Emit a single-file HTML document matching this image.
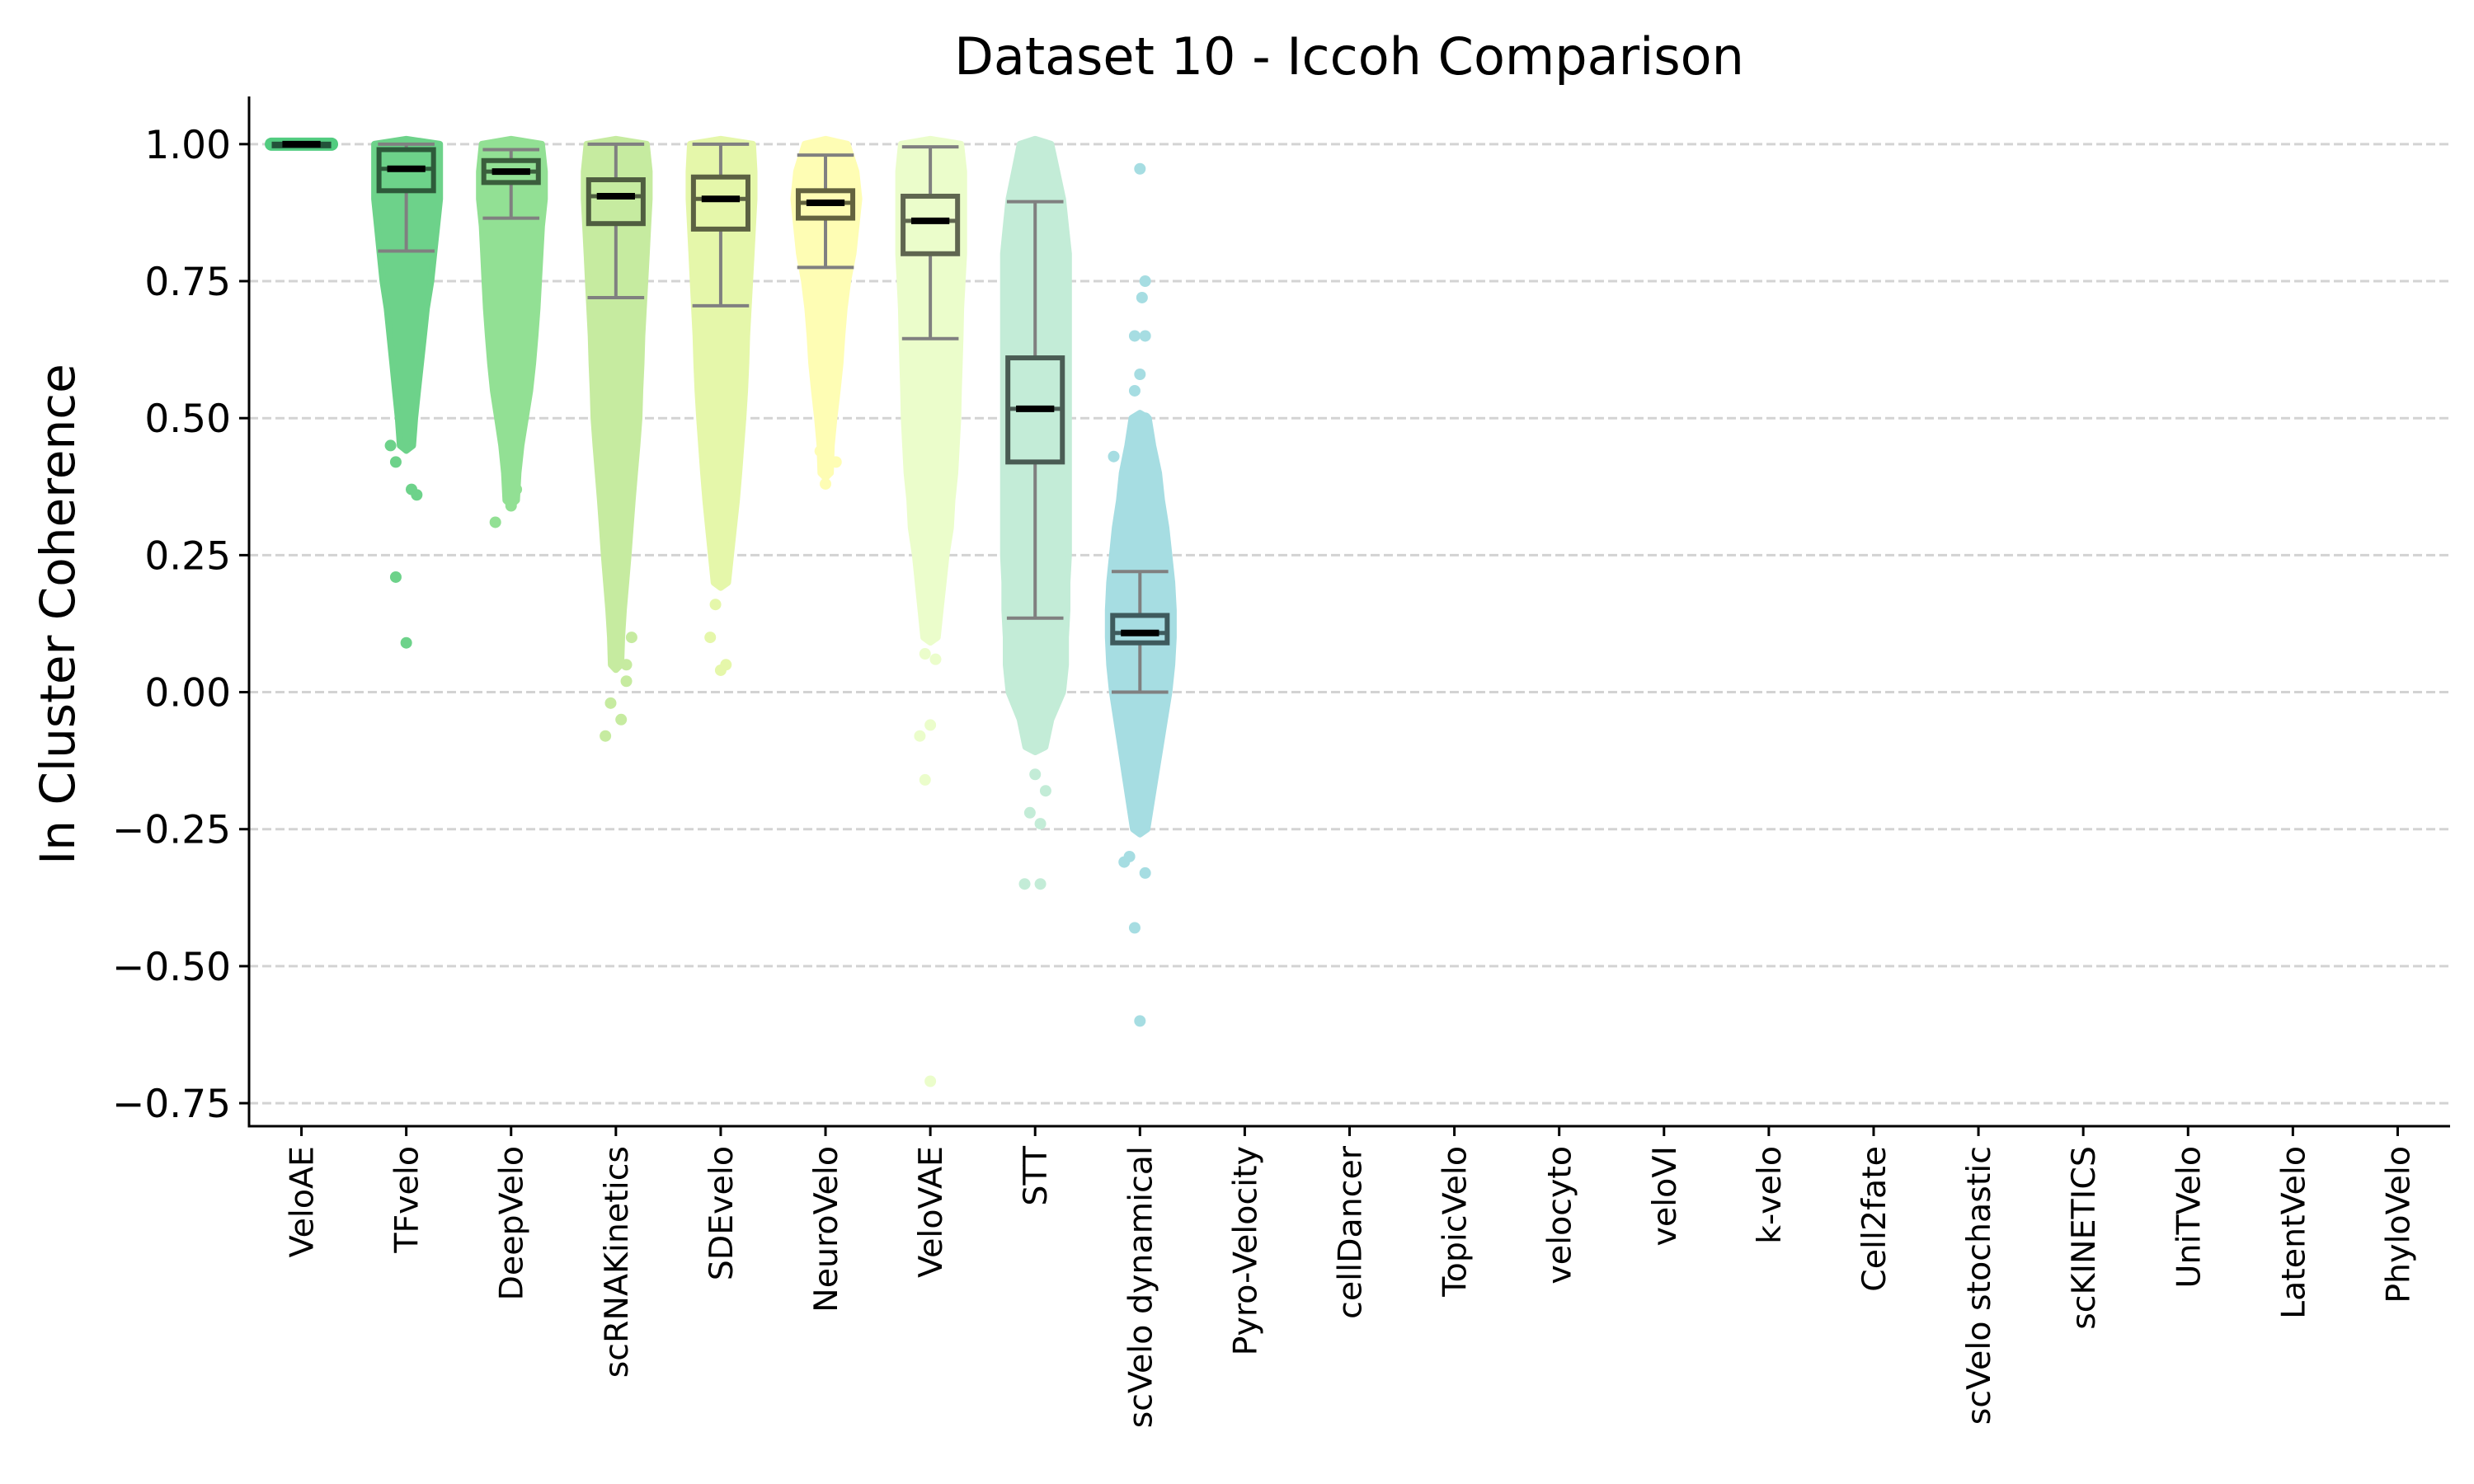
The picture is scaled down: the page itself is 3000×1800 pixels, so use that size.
<!DOCTYPE html>
<html><head><meta charset="utf-8"><style>
html,body{margin:0;padding:0;background:#fff;}
svg{display:block;font-family:"DejaVu Sans","Liberation Sans",sans-serif;}
</style></head><body>
<svg id="chart" width="3000" height="1800" viewBox="0 0 3000 1800" xmlns="http://www.w3.org/2000/svg">
<text x="1636" y="90" font-size="62" text-anchor="middle">Dataset 10 - Iccoh Comparison</text>
<text transform="translate(90,745) rotate(-90)" font-size="58" text-anchor="middle">In Cluster Coherence</text>
<g id="grid"></g>
<g id="clouds"></g>
<g id="boxes"></g>
<g id="axes"></g>
</svg>
<script>
const categories = ["VeloAE","TFvelo","DeepVelo","scRNAKinetics","SDEvelo","NeuroVelo","VeloVAE","STT","scVelo dynamical","Pyro-Velocity","cellDancer","TopicVelo","velocyto","veloVI","k-velo","Cell2fate","scVelo stochastic","scKINETICS","UniTVelo","LatentVelo","PhyloVelo"];
const colors = ["#52cc80","#6dd28a","#92e094","#c6eba0","#e5f7aa","#fefdb4","#ebfdcb","#c3ecd7","#a6dde2"];
const edgeColors = ["#23533a","#2d5a3a","#3a5e3c","#4f5d40","#5b6142","#63633f","#5f6650","#4a5c54","#3e5a5d"];
const medians = [1.0,0.955,0.95,0.905,0.9,0.893,0.86,0.517,0.108];
const q1s = [0.997,0.915,0.93,0.855,0.845,0.865,0.80,0.42,0.09];
const q3s = [1.0,0.99,0.97,0.935,0.94,0.915,0.905,0.61,0.14];
const whiskerLo = [0.996,0.805,0.865,0.72,0.705,0.775,0.645,0.135,0.0];
const whiskerHi = [1.0,1.0,0.99,1.0,1.0,0.98,0.995,0.895,0.22];
const yTicks = [1.0,0.75,0.5,0.25,0.0,-0.25,-0.5,-0.75];
const yTickLabels = ["1.00","0.75","0.50","0.25","0.00","\u22120.25","\u22120.50","\u22120.75"];
// density levels: 1.00 down to -0.75 by 0.05
const levels = [1.0,0.95,0.9,0.85,0.8,0.75,0.7,0.65,0.6,0.55,0.5,0.45,0.4,0.35,0.3,0.25,0.2,0.15,0.1,0.05,0.0,-0.05,-0.1,-0.15,-0.2,-0.25,-0.3,-0.35,-0.4,-0.45,-0.5,-0.55,-0.6,-0.65,-0.7,-0.75];
const dens0 = [1.1];
const dens1 = [1,1,1,0.9,0.8,0.7,0.55,0.45,0.35,0.25,0.15,0.08];
const dens2 = [0.9,1,1,0.9,0.85,0.8,0.75,0.68,0.6,0.5,0.35,0.2,0.1,0.05];
const dens3 = [0.9,1,1,0.95,0.9,0.85,0.8,0.75,0.72,0.68,0.65,0.58,0.5,0.42,0.35,0.28,0.2,0.12,0.06,0.03];
const dens4 = [0.95,1,1,0.95,0.9,0.85,0.8,0.75,0.72,0.68,0.62,0.55,0.48,0.4,0.3,0.2,0.1];
const dens5 = [0.6,0.9,1,0.9,0.8,0.62,0.5,0.42,0.36,0.26,0.15,0.06,0.03];
const dens6 = [0.9,1,1,1,1,0.95,0.9,0.88,0.85,0.82,0.8,0.75,0.7,0.6,0.55,0.4,0.3,0.2,0.1];
const dens7 = [0.4,0.6,0.8,0.9,1,1,1,1,1,1,1,1,1,1,1,1,0.95,0.95,0.9,0.9,0.8,0.4,0.2];
const dens8 = [0,0,0,0,0,0,0,0,0,0,0.15,0.3,0.5,0.6,0.75,0.85,0.95,1,1,0.95,0.85,0.7,0.55,0.4,0.25,0.1];
const densities = [dens0,dens1,dens2,dens3,dens4,dens5,dens6,dens7,dens8];
const outlierCat = [1,1,1,1,1,1,2,2,2,3,3,3,3,3,3,4,4,4,4,5,5,5,6,6,6,6,6,6,7,7,7,7,7,7,8,8,8,8,8,8,8,8,8,8,8,8,8,8];
const outlierVal = [0.42,0.37,0.36,0.21,0.09,0.45,0.31,0.34,0.37,-0.08,-0.05,-0.02,0.02,0.05,0.1,0.16,0.1,0.05,0.04,0.38,0.42,0.44,0.07,0.06,-0.06,-0.08,-0.16,-0.71,-0.15,-0.18,-0.22,-0.24,-0.35,-0.35,0.955,0.75,0.72,0.65,0.65,0.58,0.55,0.5,0.43,-0.31,-0.3,-0.33,-0.43,-0.6];
const outlierJit = [-0.1,0.05,0.1,-0.1,0.0,-0.15,-0.15,0.0,0.05,-0.1,0.05,-0.05,0.1,0.1,0.15,-0.05,-0.1,0.05,0.0,0.0,0.1,-0.05,-0.05,0.05,0.0,-0.1,-0.05,0.0,0.0,0.1,-0.05,0.05,-0.1,0.05,0.0,0.05,0.02,-0.05,0.05,0.0,-0.05,0.05,-0.25,-0.15,-0.1,0.05,-0.05,0.0];

const NS="http://www.w3.org/2000/svg";
const L=302,R=2971,T=117,B=1366;
const yMin=-0.792,yMax=1.087;
function yPos(v){return B-(v-yMin)/(yMax-yMin)*(B-T);}
const band=(R-L)/categories.length;
function xPos(i){return L+(i+0.5)*band;}
function mk(tag,attrs,parent){const e=document.createElementNS(NS,tag);for(const k in attrs)e.setAttribute(k,attrs[k]);parent.appendChild(e);return e;}
const grid=document.getElementById('grid'),clouds=document.getElementById('clouds'),boxes=document.getElementById('boxes'),axes=document.getElementById('axes');

yTicks.forEach((v,i)=>{
  const g=mk('line',{x1:L,x2:R,y1:yPos(v),y2:yPos(v),stroke:'#d3d3d3','stroke-width':3,'stroke-dasharray':'11,5'},grid);
  
  
  const t=mk('line',{x1:L-12,x2:L,y1:yPos(v),y2:yPos(v),stroke:'#000','stroke-width':3},axes);
  
  
  const lb=mk('text',{x:L-22,y:yPos(v)+17,'font-size':47,'text-anchor':'end'},axes);
  lb.textContent=yTickLabels[i];
  
  
});

const hw=0.28*band;
densities.forEach((d,i)=>{
  const cx=xPos(i);
  if(d.length===1){
    const p=mk('rect',{x:cx-0.35*band,y:yPos(levels[0])-8,width:0.7*band,height:16,rx:8,fill:colors[i]},clouds);
    
    
    return;
  }
  const idx=[];d.forEach((w,k)=>{if(w>0)idx.push(k);});
  const first=idx[0],last=idx[idx.length-1];
  let right=[],left=[];
  for(let k=first;k<=last;k++){
    const w=Math.max(d[k],0.03)*hw+5;
    right.push([cx+w,yPos(levels[k])]);
    left.push([cx-w*0.95,yPos(levels[k])]);
  }
  const topY=yPos(levels[first])-6,botY=yPos(levels[last])+6;
  let s='M'+cx+','+topY;
  right.forEach(p=>s+=' L'+p[0].toFixed(1)+','+p[1].toFixed(1));
  s+=' L'+cx+','+botY;
  left.reverse().forEach(p=>s+=' L'+p[0].toFixed(1)+','+p[1].toFixed(1));
  s+='Z';
  const p=mk('path',{d:s,fill:colors[i],stroke:colors[i],'stroke-width':8,'stroke-linejoin':'round'},clouds);
  
  
});
outlierVal.forEach((v,k)=>{
  const c=outlierCat[k];
  const e=mk('ellipse',{cx:xPos(c)+outlierJit[k]*band,cy:yPos(v),rx:7,ry:7,fill:colors[c]},clouds);
  
  
});

medians.forEach((m,i)=>{
  const cx=xPos(i),bw=0.52*band,cw=0.27*band;
  const g=mk('g',{},boxes);
  
  
  mk('line',{x1:cx,x2:cx,y1:yPos(q1s[i]),y2:yPos(whiskerLo[i]),stroke:'#808080','stroke-width':4},g);
  mk('line',{x1:cx,x2:cx,y1:yPos(q3s[i]),y2:yPos(whiskerHi[i]),stroke:'#808080','stroke-width':4},g);
  mk('line',{x1:cx-cw,x2:cx+cw,y1:yPos(whiskerLo[i]),y2:yPos(whiskerLo[i]),stroke:'#808080','stroke-width':4},g);
  mk('line',{x1:cx-cw,x2:cx+cw,y1:yPos(whiskerHi[i]),y2:yPos(whiskerHi[i]),stroke:'#808080','stroke-width':4},g);
  const y3=yPos(q3s[i]),y1=yPos(q1s[i]);
  mk('rect',{x:cx-bw/2,y:y3,width:bw,height:Math.max(y1-y3,1),fill:colors[i],stroke:edgeColors[i],'stroke-width':6},g);
  mk('line',{x1:cx-bw/2,x2:cx+bw/2,y1:yPos(m),y2:yPos(m),stroke:edgeColors[i],'stroke-width':5},g);
  mk('line',{x1:cx-0.25*bw*1.4,x2:cx+0.25*bw*1.4,y1:yPos(m),y2:yPos(m),stroke:'#000','stroke-width':8},g);
});

mk('line',{x1:L,x2:L,y1:T,y2:B+1.5,stroke:'#000','stroke-width':3},axes);
mk('line',{x1:L-1.5,x2:R,y1:B,y2:B,stroke:'#000','stroke-width':3},axes);
categories.forEach((c,i)=>{
  const x=xPos(i);
  const t=mk('line',{x1:x,x2:x,y1:B,y2:B+12,stroke:'#000','stroke-width':3},axes);
  
  
  const lb=mk('text',{transform:'translate('+(x+14)+','+(B+24)+') rotate(-90)','font-size':39.5,'text-anchor':'end'},axes);
  lb.textContent=c;
  
  
});
</script>
</body></html>
